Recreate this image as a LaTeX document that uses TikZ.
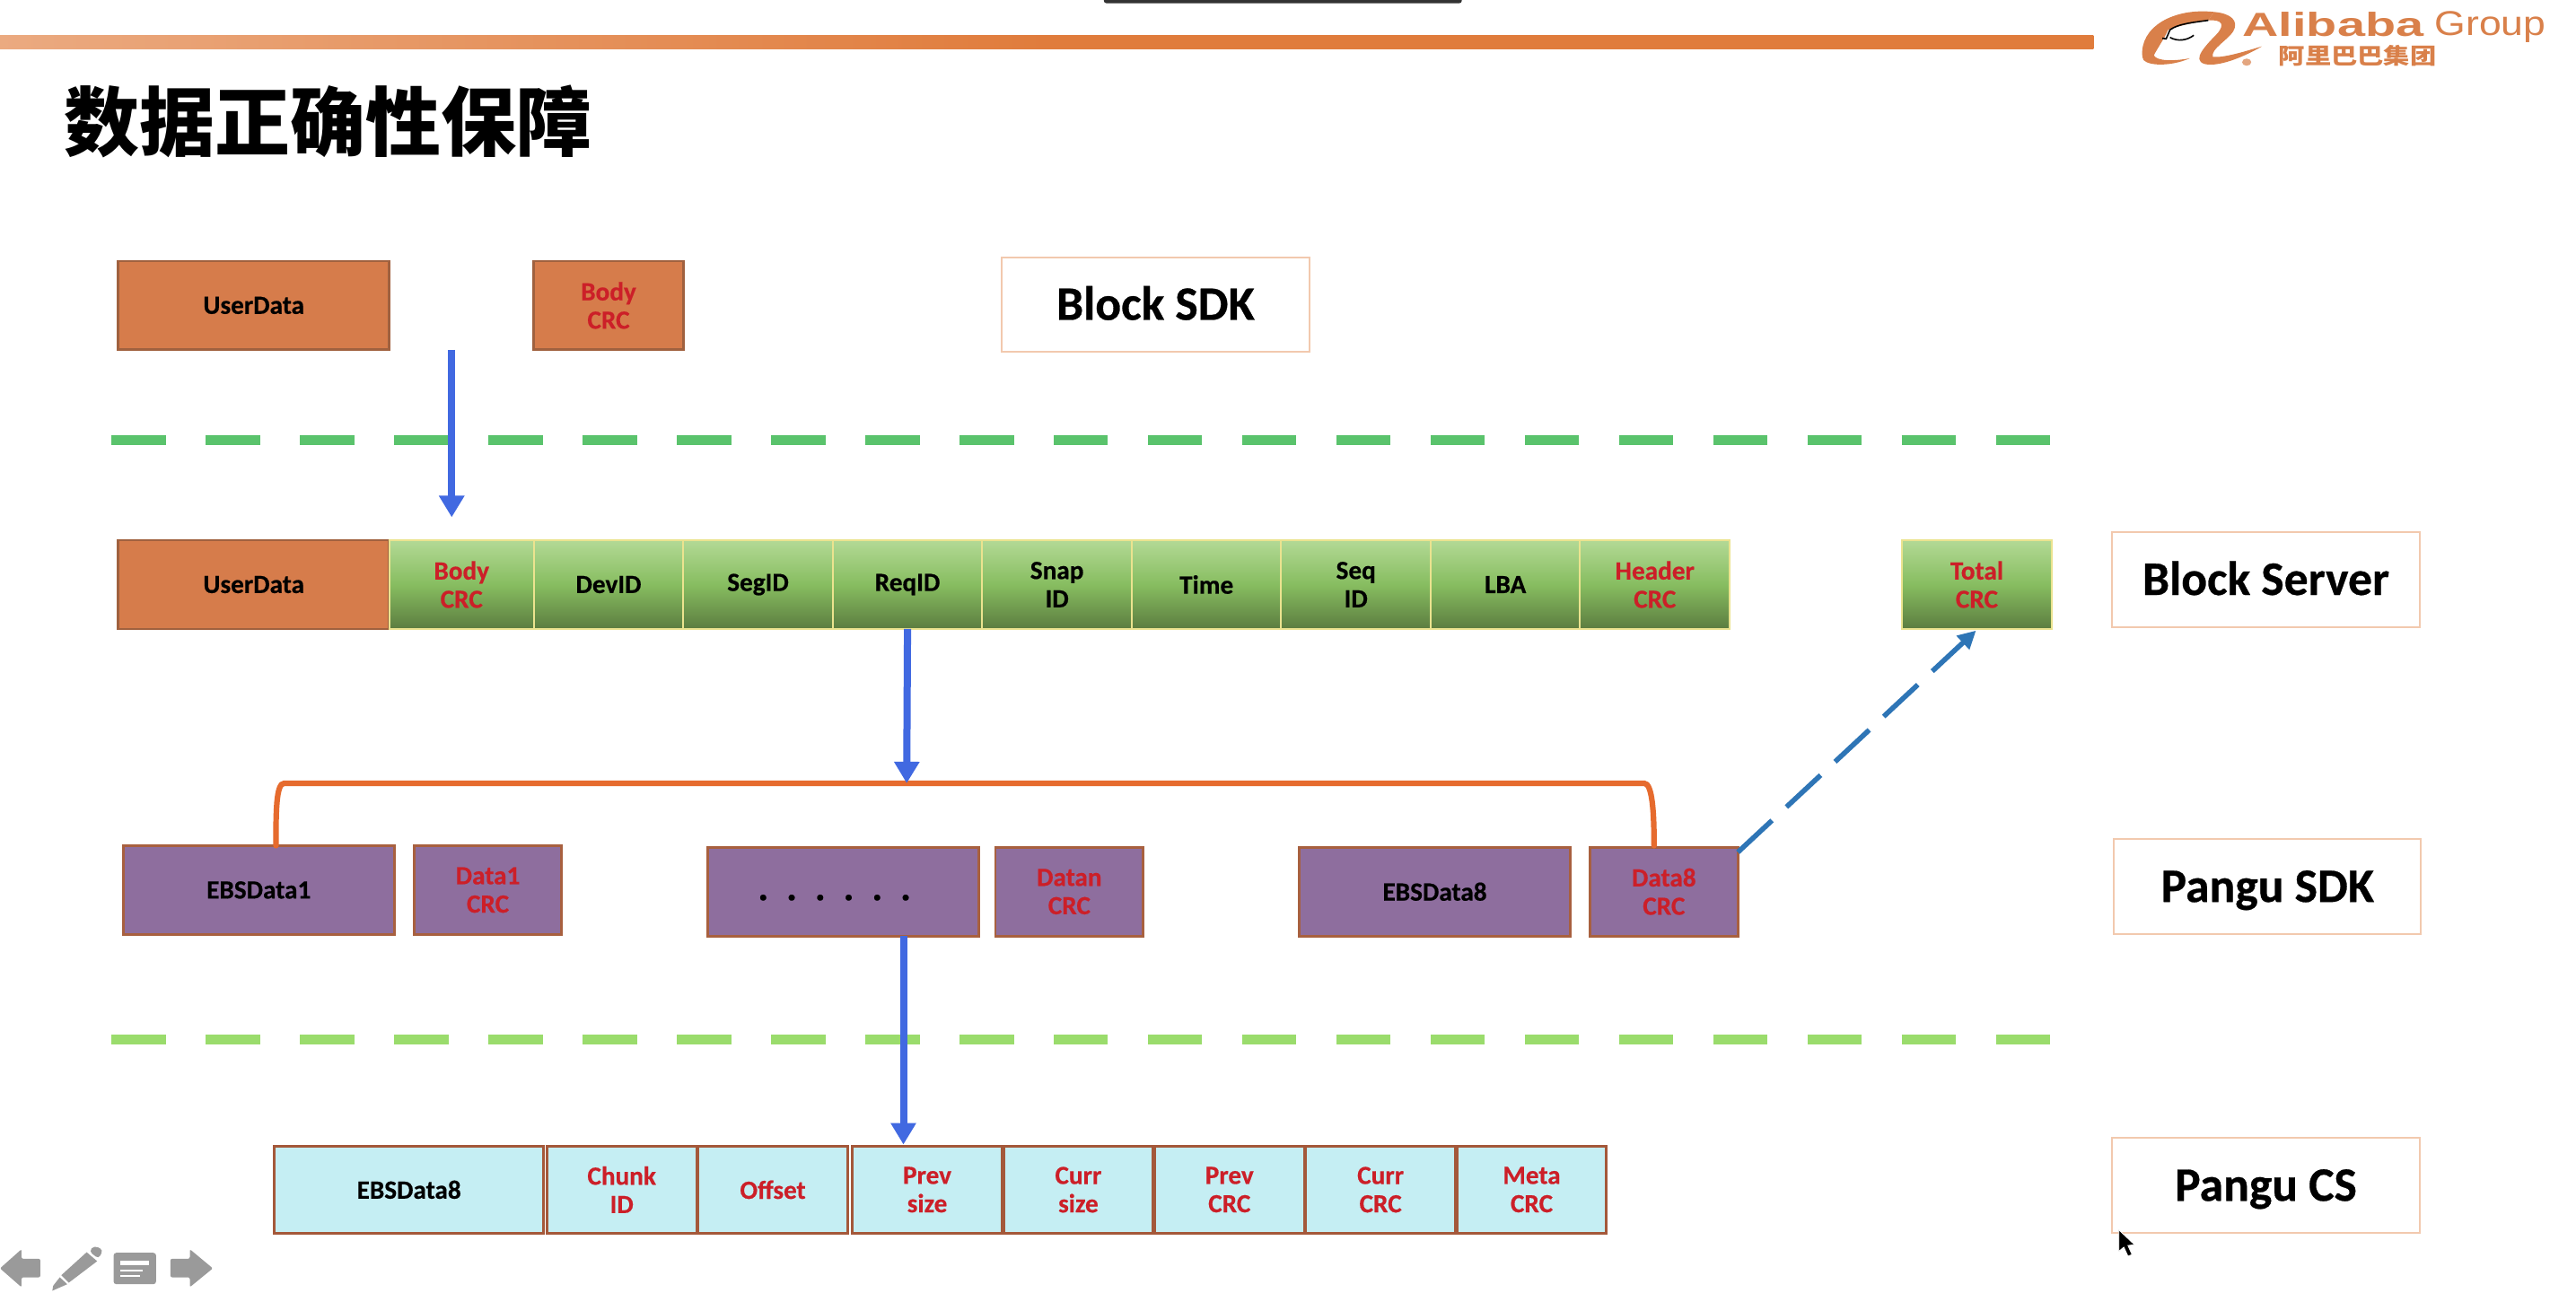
\documentclass[tikz,border=0pt]{standalone}
\usepackage{fontspec}
\setmainfont{Carlito}[BoldFeatures={FakeBold=0.5}]
\newfontfamily\cjk{Noto Sans CJK SC}
\newfontfamily\libs{Liberation Sans}
\usetikzlibrary{arrows.meta}
\definecolor{orfill}{HTML}{D67C4B}
\definecolor{orline}{HTML}{A0613F}
\definecolor{purfill}{HTML}{8E6E9E}
\definecolor{purline}{HTML}{A8603F}
\definecolor{cyfill}{HTML}{C5EEF3}
\definecolor{cyline}{HTML}{A4583A}
\definecolor{grtop}{HTML}{B3D995}
\definecolor{grmid}{HTML}{87BD60}
\definecolor{grbot}{HTML}{5C7D40}
\definecolor{grline}{HTML}{EBE38F}
\definecolor{crcred}{HTML}{CC1F28}
\definecolor{flow}{HTML}{4169E1}
\definecolor{dashblue}{HTML}{2E75B6}
\definecolor{brk}{HTML}{E66B2E}
\definecolor{sepa}{HTML}{5AC36C}
\definecolor{sepb}{HTML}{9ADC6C}
\definecolor{barc}{HTML}{E07C3C}
\definecolor{logoc}{HTML}{D9804A}
\definecolor{lay}{HTML}{F2C9AE}
\definecolor{icon}{HTML}{9A9A9A}
\newcommand{\bx}[7]{\node[#6,minimum width={(#3-#2)*0.915pt},minimum height={(#5-#4)*0.915pt}] (#1) at ({(#2+#3)/2},{(#4+#5)/2}) {#7};}
\tikzset{
  cell/.style={rectangle,inner sep=0pt,outer sep=0pt,align=center,line width=1.4pt,
    font=\fontsize{14.6}{15.8}\selectfont\bfseries},
  orbox/.style={cell,draw=orline,fill=orfill},
  grbox/.style={cell,draw=grline,line width=1pt,top color=grtop,bottom color=grbot,middle color=grmid},
  purbox/.style={cell,draw=purline,fill=purfill},
  cybox/.style={cell,draw=cyline,fill=cyfill},
  crc/.style={text=crcred},
  layer/.style={rectangle,inner sep=0pt,outer sep=0pt,draw=lay,line width=1pt,fill=white,
    text height=17pt,text depth=0pt,
    font=\fontsize{26.8}{30}\selectfont\bfseries},
  flowarrow/.style={draw=flow,line width=4pt,-{Triangle[length=12pt,width=13.5pt]}},
  sepline/.style={line width=5.5pt,dash pattern=on 30.2pt off 22.28pt},
}
\begin{document}
\begin{tikzpicture}[x=0.915pt,y=-0.915pt]
\useasboundingbox (0,0) rectangle (1568.3,786.9);
\fill[white] (0,0) rectangle (1568.3,786.9);
% top strip
\fill[left color=barc!65!white,right color=barc,middle color=barc] (0,21.5) rectangle (1274.5,30);
\fill[black!80,rounded corners=1.5pt] (672,-3) rectangle (890,2);
% title
\node[anchor=west,inner sep=0pt,font={\cjk\fontsize{42}{46}\selectfont\bfseries}] (title) at (39,74) {数据正确性保障};
% logo
\begin{scope}[shift={(1202,0)},xscale=.2335,yscale=.182]
\fill[logoc] (625,40) .. controls (520,25) and (430,90) .. (438,190)
  .. controls (438,222) and (510,225) .. (562,195)
  .. controls (520,205) and (475,205) .. (468,185)
  .. controls (478,160) and (495,130) .. (505,100)
  .. controls (540,82) and (580,75) .. (610,68) -- cycle;
\fill[logoc] (625,40) .. controls (670,45) and (690,70) .. (675,105)
  .. controls (660,135) and (615,165) .. (622,190)
  .. controls (650,195) and (710,170) .. (750,155)
  .. controls (710,185) and (640,226) .. (600,214)
  .. controls (565,200) and (605,150) .. (635,110)
  .. controls (650,85) and (650,65) .. (610,68) -- cycle;
\draw[black,line width=.8pt] (610,68) .. controls (570,75) and (530,80) .. (510,100) -- (500,130) -- (490,128);
\draw[black,line width=.8pt] (510,125) .. controls (530,140) and (555,135) .. (572,118);
\fill[logoc!70!white] (710,208) circle [x radius=12,y radius=12];
\end{scope}
\node[anchor=west,inner sep=0pt,text=logoc,xscale=1.5,font={\libs\fontsize{18.6}{20}\selectfont\bfseries}] (alibaba) at (1365,15) {Alibaba};
\node[anchor=west,inner sep=0pt,text=logoc,xscale=1.16,font={\libs\fontsize{19.2}{20}\selectfont}] (group) at (1482,16.5) {Group};
\node[anchor=west,inner sep=0pt,text=logoc,xscale=1.19,font={\cjk\fontsize{12.3}{14}\selectfont\bfseries}] (logocn) at (1387,34) {阿里巴巴集团};
% separators
\coordinate (s1a) at (68,268); \coordinate (s1b) at (1248,268);
\coordinate (s2a) at (68,633); \coordinate (s2b) at (1248,633);
\draw[sepline,draw=sepa] (s1a) -- (s1b);
\draw[sepline,draw=sepb] (s2a) -- (s2b);
% row 1
\bx{ud1}{72}{237}{159}{213}{orbox}{UserData}
\bx{bc1}{325}{416}{159}{213}{orbox,crc}{Body\\CRC}
\bx{sdk}{610}{797}{157}{214}{layer}{Block SDK}
% row 2
\bx{ud2}{72}{237}{329}{383}{orbox}{UserData}
\bx{bc2}{237}{325}{329}{383}{grbox,crc}{Body\\CRC}
\bx{dev}{325}{416}{329}{383}{grbox}{DevID}
\bx{seg}{416}{507}{329}{383}{grbox}{SegID}
\bx{req}{507}{598}{329}{383}{grbox}{ReqID}
\bx{snap}{598}{689}{329}{383}{grbox}{Snap\\ID}
\bx{time}{689}{780}{329}{383}{grbox}{Time}
\bx{seq}{780}{871}{329}{383}{grbox}{Seq\\ID}
\bx{lba}{871}{962}{329}{383}{grbox}{LBA}
\bx{hdr}{962}{1053}{329}{383}{grbox,crc}{Header\\CRC}
\bx{tot}{1158}{1249}{329}{383}{grbox,crc}{Total\\CRC}
\bx{srv}{1286}{1473}{324}{382}{layer}{Block Server}
% row 3
\bx{eb1}{75}{240}{515}{569}{purbox}{EBSData1}
\bx{d1c}{252}{342}{515}{569}{purbox,crc}{Data1\\CRC}
\bx{dots}{431}{596}{516}{570}{purbox}{\fontsize{22}{24}\selectfont\strut .\hspace{10pt}.\hspace{10pt}.\hspace{10pt}.\hspace{10pt}.\hspace{10pt}.\hspace{10pt}}
\bx{dnc}{606}{696}{516}{570}{purbox,crc}{Datan\\CRC}
\bx{eb8}{791}{956}{516}{570}{purbox}{EBSData8}
\bx{d8c}{968}{1058}{516}{570}{purbox,crc}{Data8\\CRC}
\bx{psdk}{1287}{1474}{511}{569}{layer}{Pangu SDK}
% row 4
\bx{c0}{167}{331}{698}{751}{cybox}{EBSData8}
\bx{c1}{333}{424}{698}{751}{cybox,crc}{Chunk\\ID}
\bx{c2}{425}{516}{698}{751}{cybox,crc}{Offset}
\bx{c3}{519}{610}{698}{751}{cybox,crc}{Prev\\size}
\bx{c4}{611}{702}{698}{751}{cybox,crc}{Curr\\size}
\bx{c5}{703}{794}{698}{751}{cybox,crc}{Prev\\CRC}
\bx{c6}{795}{886}{698}{751}{cybox,crc}{Curr\\CRC}
\bx{c7}{887}{978}{698}{751}{cybox,crc}{Meta\\CRC}
\bx{pcs}{1286}{1473}{693}{751}{layer}{Pangu CS}
% connectors
\coordinate (a1s) at (275,213); \coordinate (a1e) at (275,315);
\draw[flowarrow] (a1s) -- (a1e);
\coordinate (brL) at (168,515); \coordinate (brR) at (1007,515); \coordinate (brM) at (552,477);
\draw[draw=brk,line width=3.1pt,line cap=round] (brL) .. controls (168,495) and (168,477) .. (173,477) -- (1001,477) .. controls (1006,477) and (1007,495) .. (brR);
\draw[flowarrow] (req.south) -- (brM);
\coordinate (a3s) at (550,570); \coordinate (a3e) at (550,697);
\draw[flowarrow] (a3s) -- (a3e);
\coordinate (dbs) at (1058,519); \coordinate (dbe) at (1203,384);
\draw[draw=dashblue,line width=2.8pt,dash pattern=on 26pt off 11pt,-{Triangle[length=10pt,width=10pt]}] (dbs) -- (dbe);
% cursor
\fill[black,draw=white,line width=.4pt] (1290,749) -- (1290,762) -- (1293,759.5) -- (1295.5,765) -- (1298,764) -- (1295.5,758.5) -- (1299.5,758) -- cycle;
% toolbar icons
\begin{scope}[shift={(0,732)},xscale=.182,yscale=.182]
\fill[icon,rounded corners=1pt] (0,222) -- (72,158) -- (72,190) -- (135,190) -- (135,252) -- (72,252) -- (72,285) -- cycle;
\fill[icon] (205,245) -- (290,168) -- (325,198) -- (230,270) -- cycle;
\fill[icon] (200,252) -- (225,275) -- (175,297) -- (178,280) -- cycle;
\fill[icon,rounded corners=2pt] (298,165) -- (315,146) -- (345,160) -- (330,190) -- cycle;
\fill[icon,rounded corners=1.5pt] (380,170) rectangle (522,275);
\fill[white] (403,197) rectangle (497,210);
\fill[white] (403,227) rectangle (478,233);
\fill[white] (403,244) rectangle (467,250);
\fill[icon,rounded corners=1pt] (712,222) -- (635,158) -- (635,190) -- (570,190) -- (570,252) -- (635,252) -- (635,285) -- cycle;
\end{scope}
\end{tikzpicture}
\end{document}
